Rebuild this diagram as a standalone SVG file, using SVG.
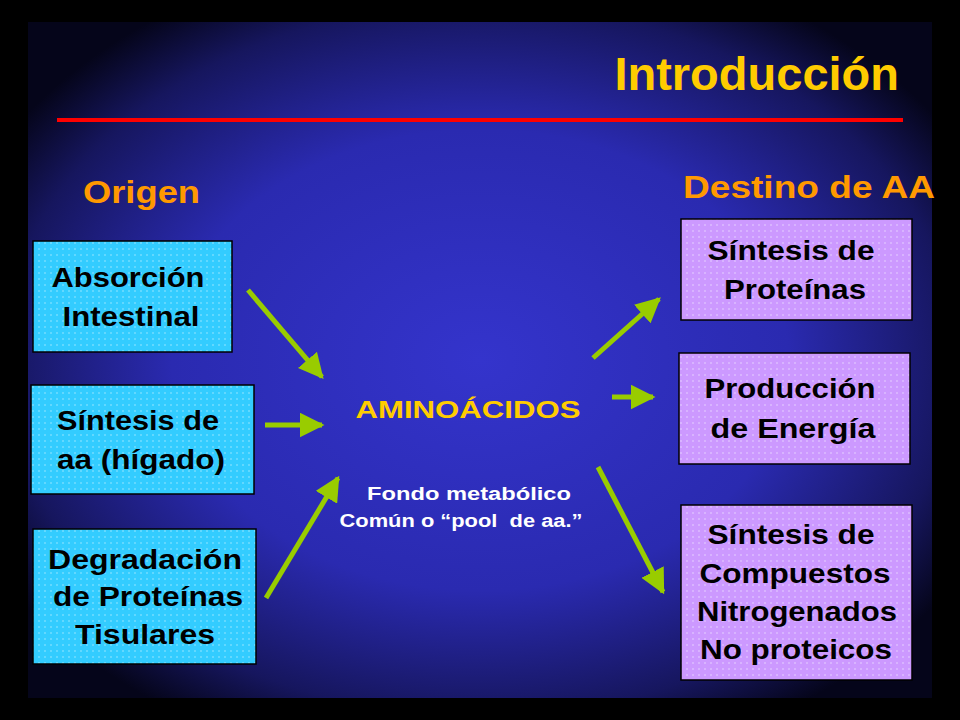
<svg xmlns="http://www.w3.org/2000/svg" width="960" height="720" viewBox="0 0 960 720">
<defs>
<radialGradient id="bg" cx="0.5" cy="0.5" r="0.62">
<stop offset="0" stop-color="#3434cc"/><stop offset="0.55" stop-color="#2a2ab0"/><stop offset="0.85" stop-color="#16165e"/><stop offset="1" stop-color="#05051a"/>
</radialGradient>
<pattern id="dc" width="6" height="6" patternUnits="userSpaceOnUse"><rect width="6" height="6" fill="#33ccff"/><circle cx="3" cy="3" r="0.8" fill="#9ee8ff"/></pattern>
<pattern id="dp" width="6" height="6" patternUnits="userSpaceOnUse"><rect width="6" height="6" fill="#cc99ff"/><circle cx="3" cy="3" r="0.8" fill="#e8d4ff"/></pattern>
<marker id="ah" viewBox="0 0 10 10" refX="9" refY="5" markerWidth="5" markerHeight="5" orient="auto" markerUnits="strokeWidth"><path d="M0,0 L10,5 L0,10 z" fill="#99cc00"/></marker>
<style>
.b{stroke:#000;stroke-width:1.5}
.t{font-family:"Liberation Sans",Arial,sans-serif;font-weight:bold;font-size:27px;text-anchor:middle;fill:#000}
.c{stroke:#99cc00;stroke-width:5;fill:none;marker-end:url(#ah)}
</style>
</defs>
<rect width="960" height="720" fill="#000"/>
<rect x="28" y="22" width="904" height="676" fill="url(#bg)"/>
<text x="899" y="90" font-family="Liberation Sans,Arial,sans-serif" font-weight="bold" font-size="47" fill="#ffcc00" text-anchor="end">Introducción</text>
<line x1="57" y1="120" x2="903" y2="120" stroke="#ff0000" stroke-width="4"/>
<text x="83" y="203" font-family="Liberation Sans,Arial,sans-serif" font-weight="bold" font-size="32" fill="#ff9900" textLength="117" lengthAdjust="spacingAndGlyphs">Origen</text>
<text x="683" y="198" font-family="Liberation Sans,Arial,sans-serif" font-weight="bold" font-size="32" fill="#ff9900" textLength="252" lengthAdjust="spacingAndGlyphs">Destino de AA</text>
<g id="n1"><rect class="b" x="33" y="241" width="199" height="111" fill="url(#dc)"/><text class="t" x="128" y="287" textLength="153" lengthAdjust="spacingAndGlyphs">Absorción</text><text class="t" x="131" y="326" textLength="137" lengthAdjust="spacingAndGlyphs">Intestinal</text></g>
<g id="n2"><rect class="b" x="31" y="385" width="223" height="109" fill="url(#dc)"/><text class="t" x="138" y="430" textLength="162" lengthAdjust="spacingAndGlyphs">Síntesis de</text><text class="t" x="141" y="469" textLength="168" lengthAdjust="spacingAndGlyphs">aa (hígado)</text></g>
<g id="n3"><rect class="b" x="33" y="529" width="223" height="135" fill="url(#dc)"/><text class="t" x="145" y="569" textLength="194" lengthAdjust="spacingAndGlyphs">Degradación</text><text class="t" x="148" y="606" textLength="190" lengthAdjust="spacingAndGlyphs">de Proteínas</text><text class="t" x="145" y="644" textLength="140" lengthAdjust="spacingAndGlyphs">Tisulares</text></g>
<g id="n4"><text x="468" y="418" font-family="Liberation Sans,Arial,sans-serif" font-weight="bold" font-size="24" fill="#ffcc00" text-anchor="middle" textLength="225" lengthAdjust="spacingAndGlyphs">AMINOÁCIDOS</text>
<text x="469" y="500" font-family="Liberation Sans,Arial,sans-serif" font-weight="bold" font-size="18" fill="#fff" text-anchor="middle" textLength="204" lengthAdjust="spacingAndGlyphs">Fondo metabólico</text>
<text x="461" y="527" font-family="Liberation Sans,Arial,sans-serif" font-weight="bold" font-size="18" fill="#fff" text-anchor="middle" xml:space="preserve" textLength="243" lengthAdjust="spacingAndGlyphs">Común o “pool  de aa.”</text></g>
<g id="n5"><rect class="b" x="681" y="219" width="231" height="101" fill="url(#dp)"/><text class="t" x="791" y="260" textLength="167" lengthAdjust="spacingAndGlyphs">Síntesis de</text><text class="t" x="795" y="299" textLength="142" lengthAdjust="spacingAndGlyphs">Proteínas</text></g>
<g id="n6"><rect class="b" x="679" y="353" width="231" height="111" fill="url(#dp)"/><text class="t" x="790" y="398" textLength="171" lengthAdjust="spacingAndGlyphs">Producción</text><text class="t" x="793" y="438" textLength="165" lengthAdjust="spacingAndGlyphs">de Energía</text></g>
<g id="n7"><rect class="b" x="681" y="505" width="231" height="175" fill="url(#dp)"/><text class="t" x="791" y="544" textLength="167" lengthAdjust="spacingAndGlyphs">Síntesis de</text><text class="t" x="795" y="583" textLength="191" lengthAdjust="spacingAndGlyphs">Compuestos</text><text class="t" x="797" y="621" textLength="200" lengthAdjust="spacingAndGlyphs">Nitrogenados</text><text class="t" x="796" y="659" textLength="192" lengthAdjust="spacingAndGlyphs">No proteicos</text></g>
<g id="connectors">
<line class="c" x1="248" y1="290" x2="322" y2="377"/>
<line class="c" x1="265" y1="425" x2="322" y2="425"/>
<line class="c" x1="266" y1="598" x2="338" y2="478"/>
<line class="c" x1="593" y1="358" x2="659" y2="299"/>
<line class="c" x1="612" y1="397" x2="653" y2="397"/>
<line class="c" x1="598" y1="467" x2="663" y2="592"/>
</g>
</svg>
